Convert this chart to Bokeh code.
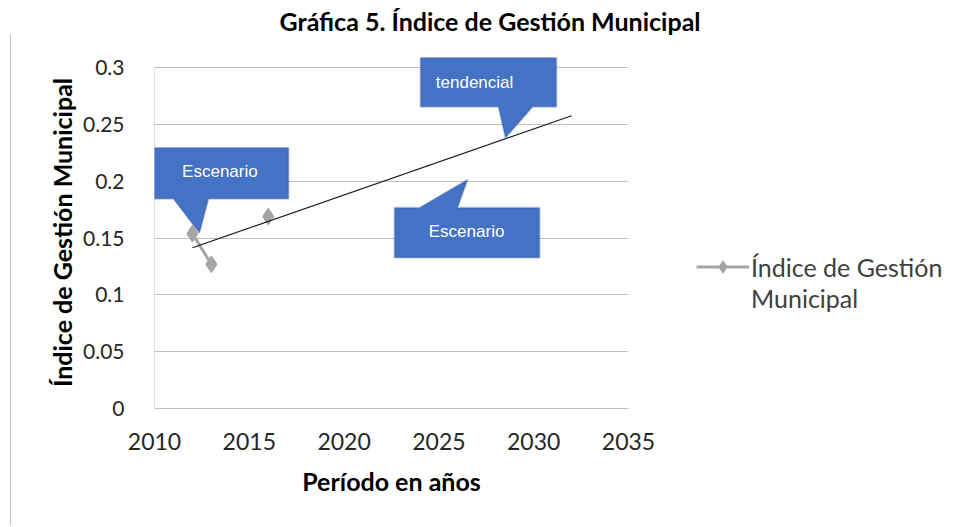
import math
from bokeh.plotting import figure
from bokeh.models import (ColumnDataSource, PolyAnnotation, Label, Legend, LegendItem,
                          FixedTicker, Title)
from bokeh.embed import file_html
from bokeh.resources import INLINE

# ---- data ----
years = [2012, 2013, 2014, 2015, 2016]
igm = [0.154, 0.127, math.nan, math.nan, 0.169]
trend_years = [2012, 2032]
trend_vals = [0.1416, 0.2578]
x_ticks = [2010, 2015, 2020, 2025, 2030, 2035]
y_ticks = [0, 0.05, 0.1, 0.15, 0.2, 0.25, 0.3]
y_labels = ["0", "0.05", "0.1", "0.15", "0.2", "0.25", "0.3"]
legend_lines = ["Índice de Gestión", "Municipal"]

# callout shapes (annotation geometry, in data units)
callout1_x = [2009.9, 2017.07, 2017.07, 2012.85, 2012.37, 2011.0, 2009.9]
callout1_y = [0.2296, 0.2296, 0.1847, 0.1847, 0.1545, 0.1847, 0.1847]
callout2_x = [2024.03, 2031.2, 2031.2, 2029.94, 2028.51, 2028.14, 2024.03]
callout2_y = [0.3088, 0.3088, 0.2657, 0.2657, 0.2384, 0.2657, 0.2657]
callout3_x = [2022.66, 2023.98, 2026.51, 2025.98, 2030.31, 2030.31, 2022.66]
callout3_y = [0.1768, 0.1768, 0.2015, 0.1768, 0.1768, 0.1328, 0.1328]
callout_texts = ["Escenario", "tendencial", "Escenario"]
callout_text_x = [2013.45, 2026.88, 2026.46]
callout_text_y = [0.2085, 0.2868, 0.1557]

FONT = "Lato"
p = figure(frame_width=474, frame_height=352, x_range=(2010, 2035), y_range=(0, 0.31),
           output_backend="svg", toolbar_location=None, title=None,
           min_border_left=154, min_border_right=0, min_border_top=56, min_border_bottom=117)
p.outline_line_color = None
p.background_fill_color = "white"
p.border_fill_alpha = 0
# thin vertical page rule at the left, drawn as the element's background
p.styles = {"background": "linear-gradient(#BFBFBF, #BFBFBF) no-repeat 10px 35px / 1px 492px, white"}

# spacer (closest to the frame) then the real title
p.add_layout(Title(text=" ", text_font_size="12px", standoff=5), "above")
p.add_layout(Title(text="Gráfica 5. Índice de Gestión Municipal", text_font=FONT,
                   text_font_size="25px", text_font_style="bold", text_color="black",
                   align="left", offset=125, standoff=0), "above")

# axes
p.xaxis.ticker = FixedTicker(ticks=x_ticks)
p.yaxis.ticker = FixedTicker(ticks=y_ticks)
p.yaxis.major_label_overrides = dict(zip(y_ticks, y_labels))
for ax in (p.xaxis, p.yaxis):
    ax.major_tick_line_color = None
    ax.minor_tick_line_color = None
    ax.major_label_text_font = FONT
    ax.major_label_text_color = "#262626"
    ax.axis_label_text_font = FONT
    ax.axis_label_text_font_size = "25px"
    ax.axis_label_text_font_style = "bold"
    ax.axis_label_text_color = "black"
p.xaxis.major_label_text_font_size = "23px"
p.yaxis.major_label_text_font_size = "21px"
p.xaxis.axis_line_color = "#BFBFBF"
p.yaxis.axis_line_color = None
p.yaxis.major_label_standoff = 24
p.xaxis.major_label_standoff = 18
p.xaxis.axis_label = "Período en años"
p.yaxis.axis_label = "Índice de Gestión Municipal"
p.xaxis.axis_label_standoff = 13
p.yaxis.axis_label_standoff = 3

p.xgrid.grid_line_color = None
p.ygrid.grid_line_color = "#BFBFBF"
p.ygrid.grid_line_width = 1

# vertical axis line only over the tick span
p.segment(x0=[x_ticks[0]], y0=[y_ticks[0]], x1=[x_ticks[0]], y1=[y_ticks[-1]],
          line_color="#BFBFBF", line_width=1)

# series
src = ColumnDataSource(dict(x=years, y=igm))
ln = p.line("x", "y", source=src, line_color="#A5A5A5", line_width=3)
mk = p.scatter("x", "y", source=src, marker="diamond", size=17, fill_color="#A5A5A5",
               line_color="#A5A5A5")
p.line(trend_years, trend_vals, line_color="#1a1a1a", line_width=1.2)
blank = p.line(x=[], y=[], line_alpha=0)

# callouts
for xs, ys in [(callout1_x, callout1_y), (callout2_x, callout2_y), (callout3_x, callout3_y)]:
    p.add_layout(PolyAnnotation(xs=xs, ys=ys, fill_color="#4472C4", fill_alpha=1.0,
                                line_color="#2F528F", line_width=1.8, level="overlay"))
for t, x, y in zip(callout_texts, callout_text_x, callout_text_y):
    p.add_layout(Label(x=x, y=y, text=t, text_align="center", text_baseline="middle",
                       text_font="Liberation Sans", text_font_size="17px", text_color="white",
                       level="overlay"))

legend = Legend(items=[LegendItem(label=legend_lines[0], renderers=[ln, mk]),
                       LegendItem(label=legend_lines[1], renderers=[blank])],
                location=(68, 95), label_text_font=FONT, label_text_font_size="25px",
                label_text_color="#404040", glyph_width=53, glyph_height=31, label_height=31,
                label_standoff=2, padding=0, margin=0, spacing=0, border_line_color=None,
                background_fill_alpha=0)
p.add_layout(legend, "right")

open("out.html", "w").write(file_html(p, INLINE))
